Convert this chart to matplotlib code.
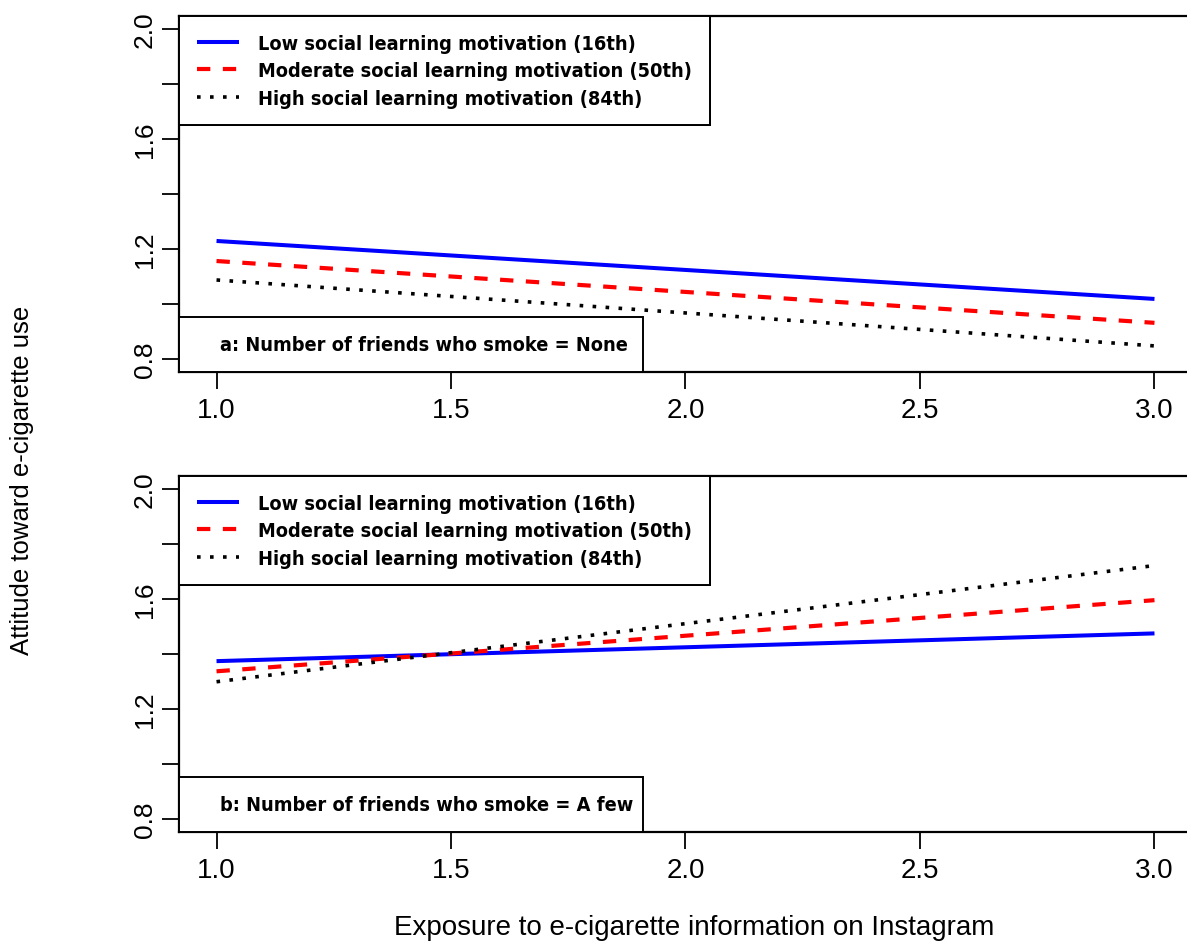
import matplotlib
matplotlib.use("Agg")
import matplotlib.pyplot as plt
from matplotlib import font_manager
from matplotlib.patches import Rectangle

# predicted attitude at exposure = 1 and 3
exposure = [1.0, 3.0]
none_low = [1.229, 1.018]
none_mod = [1.156, 0.931]
none_high = [1.087, 0.847]
few_low = [1.374, 1.475]
few_mod = [1.337, 1.596]
few_high = [1.299, 1.722]

labels = ["Low social learning motivation (16th)",
          "Moderate social learning motivation (50th)",
          "High social learning motivation (84th)"]
panel_notes = ["a: Number of friends who smoke = None",
               "b: Number of friends who smoke = A few"]
yticks = [0.8, 1.0, 1.2, 1.4, 1.6, 1.8, 2.0]
ytick_labels = ["0.8", "", "1.2", "", "1.6", "", "2.0"]
xticks = [1.0, 1.5, 2.0, 2.5, 3.0]

# look for a bold condensed face, else plain Liberation Sans bold
best = None
for f in font_manager.fontManager.ttflist:
    is_cond = ("Narrow" in f.name or "Condensed" in f.name or
               str(f.stretch) in ("condensed", "semi-condensed"))
    if not is_cond or "Italic" in f.fname or f.style != "normal":
        continue
    try:
        w = int(f.weight)
    except (TypeError, ValueError):
        w = 700 if "bold" in str(f.weight).lower() else 400
    score = -abs(w - 700) + (50 if "Liberation" in f.name else 0)
    if best is None or score > best[0]:
        best = (score, f.fname)
if best is not None and best[0] > -150:
    leg_font = dict(fname=best[1])
    leg_size = 14.3
else:
    leg_font = dict(family="Liberation Sans", weight="bold")
    leg_size = 13.2

plt.rcParams["font.family"] = ["Liberation Sans", "DejaVu Sans"]

W, H = 1187, 945
fig = plt.figure(figsize=(W / 100, H / 100), dpi=100)

def px_axes(x0, y0, x1, y1):
    return fig.add_axes([x0 / W, 1 - y1 / H, (x1 - x0) / W, (y1 - y0) / H])

styles = [dict(color="blue", lw=2.9, ls="-"),
          dict(color="red", lw=3.0, ls=(0, (3.2, 3.0))),
          dict(color="black", lw=2.6, ls=(0, (1.0, 2.6)))]

panels = [(17, 373, [none_low, none_mod, none_high], panel_notes[0]),
          (477, 833, [few_low, few_mod, few_high], panel_notes[1])]

for top, bottom, series, note in panels:
    ax = px_axes(179, top, 1192, bottom)
    for vals, st in zip(series, styles):
        ax.plot(exposure, vals, color=st["color"], lw=st["lw"], ls=st["ls"],
                solid_capstyle="butt", dash_capstyle="butt")
    ax.set_xlim(0.92, 3.08)
    ax.set_ylim(0.752, 2.048)
    ax.set_xticks(xticks)
    ax.set_xticklabels([f"{v:.1f}" for v in xticks], fontsize=20)
    ax.set_yticks(yticks)
    ax.set_yticklabels(ytick_labels, fontsize=19, rotation=90, va="center")
    ax.tick_params(axis="both", direction="out", length=12, width=1.3)
    ax.tick_params(axis="x", pad=6)
    ax.tick_params(axis="y", pad=4)
    for sp in ax.spines.values():
        sp.set_linewidth(1.6)

    leg = ax.legend(labels, loc="upper left", bbox_to_anchor=(0, 1),
                    borderaxespad=0, frameon=True, fancybox=False,
                    edgecolor="black", framealpha=1,
                    prop=font_manager.FontProperties(size=leg_size, **leg_font),
                    handlelength=2.1, handletextpad=1.0, borderpad=0.9,
                    labelspacing=0.42)
    leg.get_frame().set_linewidth(1.4)
    ax.add_artist(leg)

    bw = (643 - 179) / (1192 - 179)
    bh = 55 / (bottom - top)
    ax.add_patch(Rectangle((0, 0), bw, bh, transform=ax.transAxes,
                           facecolor="white", edgecolor="black", lw=1.4,
                           zorder=5, clip_on=False))
    ax.text((220 - 179) / (1192 - 179), bh / 2, note, transform=ax.transAxes,
            ha="left", va="center",
            fontproperties=font_manager.FontProperties(size=leg_size, **leg_font),
            zorder=6)

fig.text(22 / W, 1 - 480 / H, "Attitude toward e-cigarette use",
         rotation=90, ha="center", va="center", fontsize=18.5)
fig.text(694 / W, 1 - 928 / H, "Exposure to e-cigarette information on Instagram",
         ha="center", va="center", fontsize=20)

fig.savefig("out.png", dpi=100)
